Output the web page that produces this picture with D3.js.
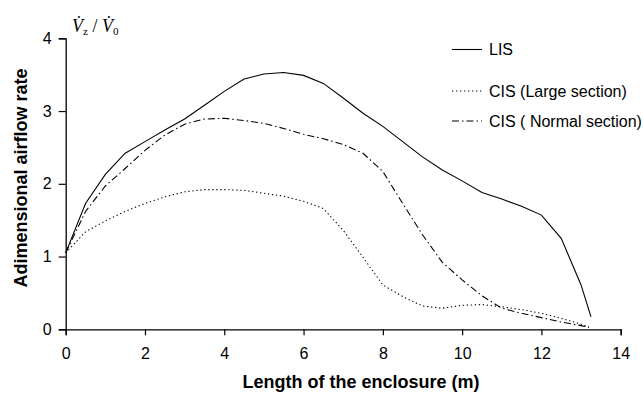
<!DOCTYPE html>
<html>
<head>
<meta charset="utf-8">
<script src="https://cdn.jsdelivr.net/npm/d3@7"></script>
<style>
  html, body { margin: 0; padding: 0; background: #fff; }
  svg { display: block; font-family: "Liberation Sans", Arial, sans-serif; }
</style>
</head>
<body>
<svg id="chart" width="643" height="393"></svg>
<script>
// Position along the enclosure (m)
const xLIS = [0,0.5,1,1.5,2,2.5,3,3.5,4,4.5,5,5.5,6,6.5,7,7.5,8,8.5,9,9.5,10,10.5,11,11.5,12,12.5,13,13.25];
const xCIS = [0,0.5,1,1.5,2,2.5,3,3.5,4,4.5,5,5.5,6,6.5,7,7.5,8,8.5,9,9.5,10,10.5,11,11.5,12,12.5,13,13.2];

// Dimensionless airflow rate Vz/V0
const lis = [1.05,1.73,2.13,2.42,2.58,2.74,2.89,3.08,3.27,3.44,3.51,3.53,3.49,3.38,3.18,2.97,2.79,2.58,2.37,2.19,2.04,1.88,1.79,1.69,1.57,1.25,0.61,0.17];
const cisLarge = [1.05,1.34,1.49,1.62,1.73,1.82,1.89,1.92,1.92,1.91,1.87,1.83,1.76,1.66,1.36,0.99,0.61,0.45,0.32,0.29,0.33,0.34,0.31,0.27,0.22,0.15,0.07,0.03];
const cisNormal = [1.05,1.62,1.97,2.21,2.46,2.67,2.82,2.89,2.90,2.87,2.83,2.76,2.68,2.62,2.54,2.42,2.17,1.73,1.30,0.92,0.68,0.46,0.29,0.22,0.16,0.10,0.05,0.03];

const seriesNames = ["LIS", "CIS (Large section)", "CIS ( Normal section)"];
const xTicks = [0,2,4,6,8,10,12,14];
const yTicks = [0,1,2,3,4];

const svg = d3.select("#chart");
const x = d3.scaleLinear().domain([0, 14]).range([65.7, 620.7]);
const y = d3.scaleLinear().domain([0, 4]).range([329.3, 38.3]);

const series = [
  { name: seriesNames[0], xs: xLIS, ys: lis, dash: null },
  { name: seriesNames[1], xs: xCIS, ys: cisLarge, dash: "1.3,2.7" },
  { name: seriesNames[2], xs: xCIS, ys: cisNormal, dash: "7,3,1.5,3" }
];

// Axes
const xAxis = svg.append("g")
  .attr("transform", `translate(0,${y(0)})`)
  .call(d3.axisBottom(x).tickValues(xTicks).tickSize(6).tickPadding(9).tickFormat(d3.format("d")));
const yAxis = svg.append("g")
  .attr("transform", `translate(${x(0)},0)`)
  .call(d3.axisLeft(y).tickValues(yTicks).tickSize(7).tickPadding(7).tickFormat(d3.format("d")));

[xAxis, yAxis].forEach(g => {
  g.select(".domain").attr("stroke", "#000").attr("stroke-width", 1.3);
  g.selectAll(".tick line").attr("stroke", "#000").attr("stroke-width", 1.2);
  g.selectAll(".tick text").attr("fill", "#000").style("font-size", "16px")
    .style("font-family", "'Liberation Sans', Arial, sans-serif");
});
xAxis.selectAll(".tick text").attr("dy", "0.95em");

// Lines
const line = d3.line().x(d => x(d[0])).y(d => y(d[1]));
series.forEach(s => {
  svg.append("path")
    .datum(s.xs.map((v, i) => [v, s.ys[i]]))
    .attr("fill", "none")
    .attr("stroke", "#000")
    .attr("stroke-width", 1.1)
    .attr("stroke-dasharray", s.dash)
    .attr("d", line);
});

// Legend
const legend = svg.append("g");
series.forEach((s, i) => {
  const ly = [49.5, 91, 121][i];
  legend.append("line")
    .attr("x1", 452).attr("x2", 482)
    .attr("y1", ly).attr("y2", ly)
    .attr("stroke", "#000").attr("stroke-width", 1.1)
    .attr("stroke-dasharray", s.dash);
  legend.append("text")
    .attr("x", 489).attr("y", ly)
    .attr("dy", "0.35em")
    .style("font-size", "16px")
    .text(s.name);
});

// Axis titles
svg.append("text")
  .attr("x", 361).attr("y", 388)
  .attr("text-anchor", "middle")
  .style("font-size", "18px").style("font-weight", "bold")
  .text("Length of the enclosure (m)");

svg.append("text")
  .attr("transform", `translate(27,178) rotate(-90)`)
  .attr("text-anchor", "middle")
  .style("font-size", "18px").style("font-weight", "bold")
  .text("Adimensional airflow rate");

// Ratio label above the y axis
const ratio = svg.append("text")
  .attr("x", 72).attr("y", 32)
  .style("font-family", "'Liberation Serif', 'Times New Roman', serif")
  .style("font-size", "18px");
ratio.append("tspan").style("font-style", "italic").text("V\u0307");
ratio.append("tspan").attr("dy", 3).style("font-size", "11px").text("z");
ratio.append("tspan").attr("dy", -3).text(" / ");
ratio.append("tspan").style("font-style", "italic").text("V\u0307");
ratio.append("tspan").attr("dy", 3).style("font-size", "11px").text("0");
</script>
</body>
</html>
